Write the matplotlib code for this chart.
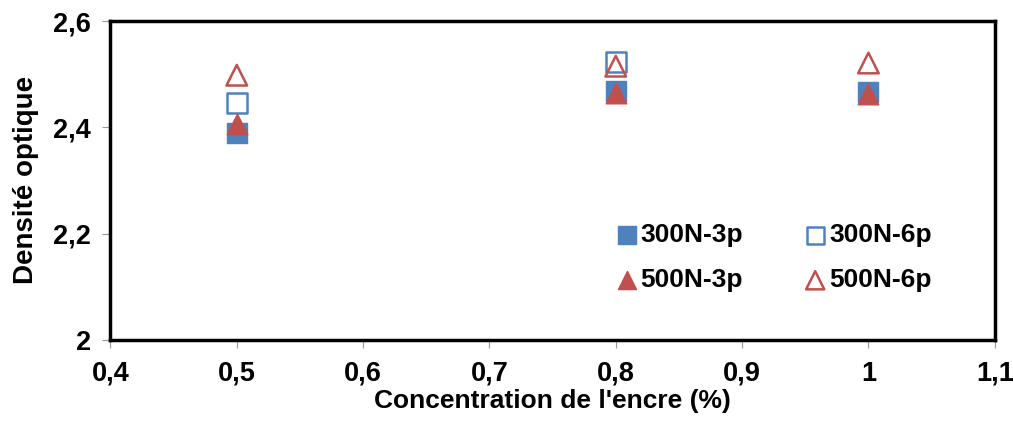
import matplotlib
matplotlib.use("Agg")
import matplotlib.pyplot as plt
from matplotlib.ticker import FuncFormatter

plt.rcParams['font.family'] = ['Liberation Sans', 'DejaVu Sans']
plt.rcParams['font.weight'] = 'bold'

# concentration (%) and optical density per series
conc_300_3p = [0.5, 0.8, 1.0]
dens_300_3p = [2.389, 2.468, 2.466]
conc_300_6p = [0.5, 0.8]
dens_300_6p = [2.446, 2.523]
conc_500_3p = [0.5, 0.8, 1.0]
dens_500_3p = [2.406, 2.465, 2.463]
conc_500_6p = [0.5, 0.8, 1.0]
dens_500_6p = [2.498, 2.515, 2.521]

blue = '#4F81BD'
red = '#C0504D'

fig = plt.figure(figsize=(10.13, 4.21), dpi=100)
ax = fig.add_axes([0.109, 0.193, 0.873, 0.757])

h1 = ax.scatter(conc_300_3p, dens_300_3p, marker='s', s=200, color=blue, label='300N-3p', zorder=3)
h2 = ax.scatter(conc_300_6p, dens_300_6p, marker='s', s=200, facecolor='none', edgecolor=blue, linewidth=1.8, label='300N-6p', zorder=3)
h3 = ax.scatter(conc_500_3p, dens_500_3p, marker='^', s=220, color=red, label='500N-3p', zorder=4)
h4 = ax.scatter(conc_500_6p, dens_500_6p, marker='^', s=220, facecolor='none', edgecolor=red, linewidth=1.8, label='500N-6p', zorder=4)

ax.set_xlim(0.4, 1.1)
ax.set_ylim(2.0, 2.6)
ax.set_xticks([0.4, 0.5, 0.6, 0.7, 0.8, 0.9, 1.0, 1.1])
ax.set_yticks([2.0, 2.2, 2.4, 2.6])
fmt = FuncFormatter(lambda v, p: ('%g' % round(v, 2)).replace('.', ','))
ax.xaxis.set_major_formatter(fmt)
ax.yaxis.set_major_formatter(fmt)
ax.tick_params(direction='out', length=6, color='#999999', labelsize=19.5)
ax.tick_params(axis='x', pad=9)
ax.tick_params(axis='y', pad=8)

for s in ax.spines.values():
    s.set_linewidth(2.5)
    s.set_color('black')

ax.set_xlabel("Concentration de l'encre (%)", fontsize=19, fontweight='bold', labelpad=2)
ax.set_ylabel('Densité optique', fontsize=20, fontweight='bold', labelpad=10)

# row-major order: matplotlib fills legend columns first
ax.legend([h1, h3, h2, h4], ['300N-3p', '500N-3p', '300N-6p', '500N-6p'],
          ncol=2, loc='center left', bbox_to_anchor=(0.609, 0.388),
          bbox_transform=fig.transFigure, frameon=False, borderpad=0,
          borderaxespad=0, handlelength=0.75, handletextpad=0.15,
          columnspacing=2.35, labelspacing=0.8, markerscale=0.88,
          scatterpoints=1, prop={'size': 19, 'weight': 'bold'})

fig.savefig('out.png', dpi=100)
